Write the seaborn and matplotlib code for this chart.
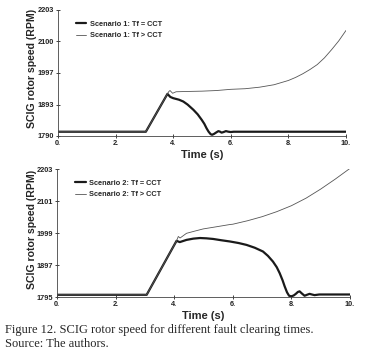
import matplotlib
matplotlib.use("Agg")
import matplotlib.pyplot as plt
import seaborn as sns

# scenario 1 (top panel)
s1_t_cct = [0.0, 3.05, 3.8, 3.9, 4.0, 4.2, 4.35, 4.5, 4.7, 4.85, 4.99, 5.08, 5.16, 5.23, 5.3, 5.35,
            5.42, 5.5, 5.57, 5.63, 5.68, 5.75, 5.83, 5.92, 6.0, 6.1, 6.2, 10.0]
s1_v_cct = [1804, 1804, 1928, 1918, 1914, 1909, 1903, 1893, 1876, 1861, 1843, 1830, 1815, 1804, 1796, 1794,
            1797, 1802, 1806, 1804, 1801, 1803, 1806, 1804, 1803, 1804, 1804, 1804]
s1_t_gt = [0.0, 3.05, 3.8, 3.85, 3.89, 3.94, 3.98, 4.1, 4.5, 5.0, 5.5, 6.0, 6.5, 7.0, 7.5, 8.0,
           8.25, 8.5, 8.75, 9.0, 9.25, 9.5, 9.75, 10.0]
s1_v_gt = [1804, 1804, 1928, 1936, 1939, 1934, 1930, 1935, 1936, 1937, 1939, 1943, 1945, 1950, 1958, 1972,
           1982, 1994, 2008, 2024, 2046, 2073, 2102, 2136]

# scenario 2 (bottom panel)
s2_t_cct = [0.0, 3.06, 4.08, 4.19, 4.42, 4.65, 4.88, 5.1, 5.33, 5.6, 5.9, 6.2, 6.47, 6.75, 7.03, 7.2,
            7.37, 7.5, 7.6, 7.7, 7.77, 7.85, 7.92, 8.0, 8.08, 8.15, 8.22, 8.28, 8.36, 8.45, 8.53,
            8.62, 8.7, 8.79, 8.95, 9.1, 10.0]
s2_v_cct = [1802, 1802, 1974, 1970, 1977, 1981, 1983, 1982, 1980, 1976, 1972, 1967, 1961, 1952, 1940, 1926,
            1908, 1890, 1871, 1848, 1829, 1810, 1799, 1797, 1800, 1805, 1811, 1813, 1806, 1799, 1802,
            1805, 1803, 1801, 1803, 1803, 1803]
s2_t_gt = [0.0, 3.06, 4.08, 4.14, 4.2, 4.42, 4.7, 4.99, 5.45, 5.9, 6.0, 6.5, 7.0, 7.5, 8.0, 8.5,
           9.0, 9.5, 10.0]
s2_v_gt = [1802, 1802, 1974, 1988, 1983, 1998, 2005, 2012, 2019, 2026, 2027, 2038, 2051, 2067, 2086, 2110,
           2139, 2171, 2205]

yticks_1 = [1790, 1893, 1997, 2100, 2203]
yticks_2 = [1795, 1897, 1999, 2101, 2203]
xticks = [0, 2, 4, 6, 8, 10]
xtick_labels = ["0.", "2.", "4.", "6.", "8.", "10."]

sns.set_style("ticks")
plt.rcParams['font.family'] = ['Liberation Sans', 'DejaVu Sans']

fig = plt.figure(figsize=(3.75, 3.54), dpi=100)
ax1 = fig.add_axes([58 / 375, 1 - 136 / 354, 288 / 375, 126 / 354])
ax2 = fig.add_axes([57 / 375, 1 - 297 / 354, 293 / 375, 128 / 354])

panels = [
    (ax1, s1_t_cct, s1_v_cct, s1_t_gt, s1_v_gt, yticks_1, "Scenario 1", (-0.073, 0.536)),
    (ax2, s2_t_cct, s2_v_cct, s2_t_gt, s2_v_gt, yticks_2, "Scenario 2", (-0.068, 0.531)),
]

for ax, t_a, v_a, t_b, v_b, yt, name, lab_xy in panels:
    sns.lineplot(x=t_a, y=v_a, ax=ax, color="#1a1a1a", lw=1.6, label=f"{name}: Tf = CCT")
    sns.lineplot(x=t_b, y=v_b, ax=ax, color="#555555", lw=0.6, label=f"{name}: Tf > CCT")
    ax.set_xlim(0, 10)
    ax.set_ylim(yt[0], yt[-1])
    ax.set_yticks(yt)
    ax.set_yticklabels([str(v) for v in yt], fontsize=5.3, fontweight="bold")
    ax.set_xticks(xticks)
    ax.set_xticklabels(xtick_labels, fontsize=5.3, fontweight="bold")
    ax.tick_params(direction="inout", length=3, width=0.6, pad=1.5, colors="#222222")
    for sp in ["left", "bottom"]:
        ax.spines[sp].set_linewidth(0.6)
        ax.spines[sp].set_color("#444444")
    sns.despine(ax=ax)
    ax.set_xlabel("Time (s)", fontsize=8, fontweight="bold", labelpad=2)
    ax.set_ylabel("SCIG rotor speed (RPM)", fontsize=7.6, fontweight="bold")
    ax.yaxis.set_label_coords(*lab_xy)
    ax.legend(loc="upper left", bbox_to_anchor=(0.04, 0.97), frameon=False,
              handlelength=1.4, handletextpad=0.5, labelspacing=0.6,
              prop={"size": 5.3, "weight": "bold"})

fig.text(5 / 375, 1 - 330 / 354, "Figure 12. SCIG rotor speed for different fault clearing times.",
         family=["Liberation Serif", "DejaVu Serif"], fontsize=9, va="center")
fig.text(5 / 375, 1 - 344 / 354, "Source: The authors.",
         family=["Liberation Serif", "DejaVu Serif"], fontsize=9, va="center")

fig.savefig("out.png", dpi=100)
